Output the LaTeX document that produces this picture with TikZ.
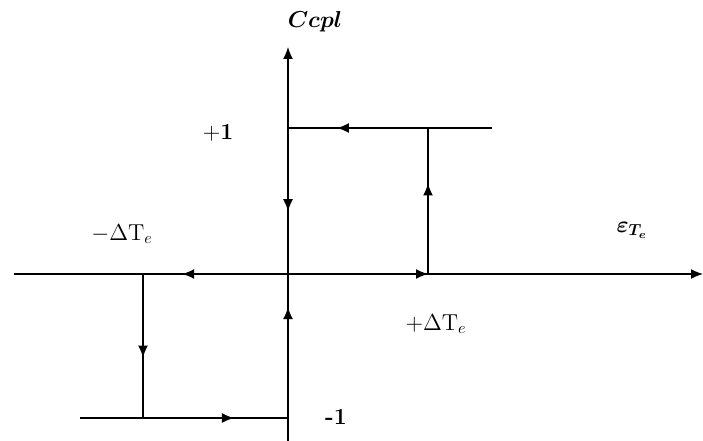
\documentclass[tikz,border=0pt]{standalone}
\usepackage{amsmath}
\usepackage{graphicx}
\usetikzlibrary{arrows.meta,decorations.markings}
\newcommand{\lblbig}[1]{\scalebox{1.6}{\Large #1}}
\tikzset{
  ln/.style={line width=1.4pt,black},
  tip/.style={-{Latex[length=12pt,width=10pt]}},
  midtip/.style={postaction={decorate},decoration={markings,mark=at position #1 with {\arrow{Latex[length=12pt,width=10pt]}}}},
  lbl/.style={inner sep=0pt}
}
\begin{document}
\begin{tikzpicture}[x=1pt,y=-1pt]
\useasboundingbox (0,0) rectangle (703,441);
\coordinate (O) at (288,274);
\coordinate (xl) at (14,274);
\coordinate (xr) at (703,274);
\coordinate (yb) at (288,441);
\coordinate (yt) at (288,47);
\coordinate (A) at (288,128);
\coordinate (B) at (492,128);
\coordinate (C) at (428,128);
\coordinate (D) at (428,274);
\coordinate (E) at (143,274);
\coordinate (F) at (143,418);
\coordinate (G) at (80,418);
\coordinate (H) at (288,418);
% axes
\draw[ln,tip] (xl) -- (xr);
\draw[ln,tip] (yb) -- (yt);
% hysteresis loop
\draw[ln,midtip=0.76] (B) -- (A);
\draw[ln,midtip=0.62] (D) -- (C);
\draw[ln,midtip=0.57] (A) -- (O);
\draw[ln,midtip=0.73] (O) -- (E);
\draw[ln,tip] (O) -- (D);
\draw[ln,midtip=0.77] (H) -- (O);
\draw[ln,midtip=0.58] (E) -- (F);
\draw[ln,midtip=0.74] (G) -- (H);
% labels
\node[lbl] (ccpl) at (315,22) {\lblbig{$\boldsymbol{Ccpl}$}};
\node[lbl] (p1) at (218,133) {\lblbig{$\mathbf{+1}$}};
\node[lbl] (m1) at (336,417) {\lblbig{\textbf{-1}}};
\node[lbl] (mdt) at (122,234) {\lblbig{$-\Delta\mathrm{T}_e$}};
\node[lbl] (pdt) at (436,324) {\lblbig{$+\Delta\mathrm{T}_e$}};
\node[lbl] (eps) at (632,230) {\lblbig{$\boldsymbol{\varepsilon_{T_e}}$}};
\end{tikzpicture}
\end{document}
